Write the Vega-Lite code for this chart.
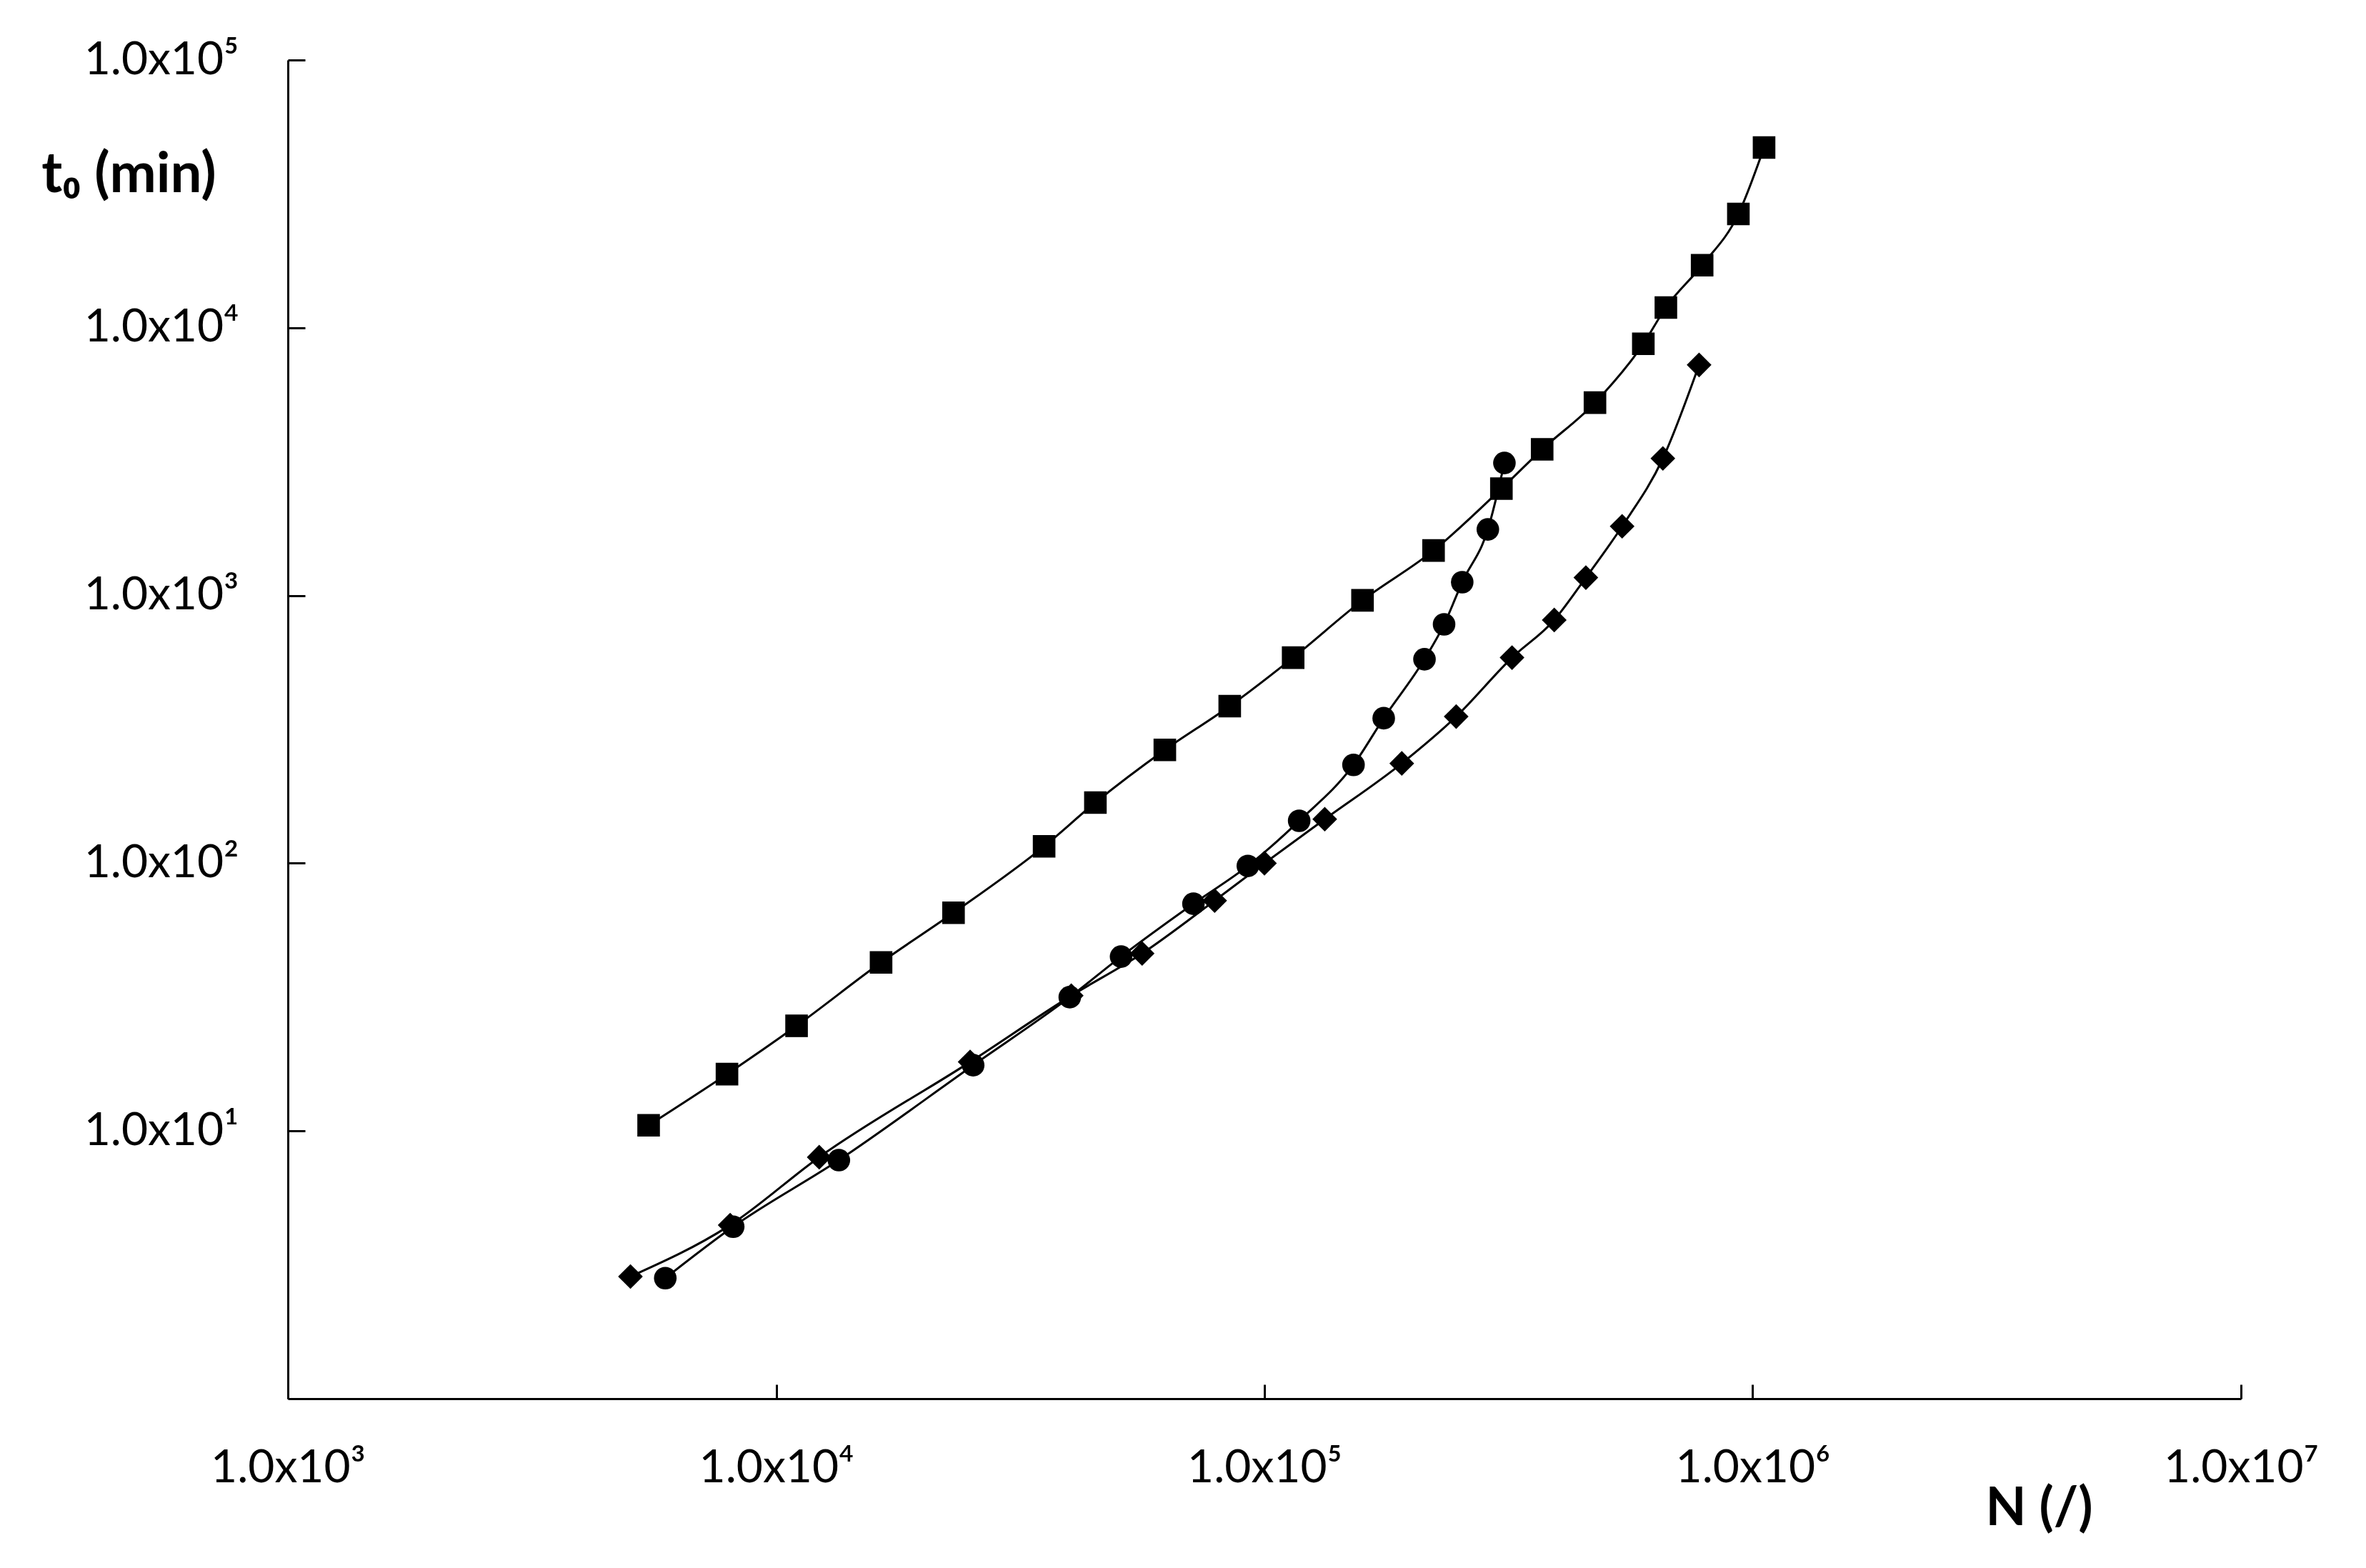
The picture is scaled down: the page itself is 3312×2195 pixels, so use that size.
{
  "$schema": "https://vega.github.io/schema/vega-lite/v6.json",
  "width": 2734,
  "height": 1874,
  "autosize": "none",
  "padding": {"left": 403, "top": 84, "right": 175, "bottom": 237},
  "background": "white",
  "config": {
    "view": {"stroke": null},
    "axis": {
      "domainColor": "black",
      "domainWidth": 3,
      "tickColor": "black",
      "tickWidth": 3,
      "grid": false,
      "labelFont": "Lato",
      "labelFontSize": 64,
      "labelColor": "black",
      "labelLimit": 0,
      "labelFlush": false,
      "labelOverlap": false,
      "labelBound": false,
      "titleFont": "Lato",
      "titleFontSize": 74,
      "titleFontWeight": "bold",
      "titleColor": "black"
    }
  },
  "data": {
    "values": [
      {"s": "A", "N": 5480, "t": 10.5},
      {"s": "A", "N": 7930, "t": 16.3},
      {"s": "A", "N": 11010, "t": 24.7},
      {"s": "A", "N": 16400, "t": 42.6},
      {"s": "A", "N": 23080, "t": 65.3},
      {"s": "A", "N": 35380, "t": 115.6},
      {"s": "A", "N": 45060, "t": 168.5},
      {"s": "A", "N": 62520, "t": 265},
      {"s": "A", "N": 84900, "t": 386},
      {"s": "A", "N": 114500, "t": 586},
      {"s": "A", "N": 158800, "t": 959},
      {"s": "A", "N": 222000, "t": 1472},
      {"s": "A", "N": 305700, "t": 2506},
      {"s": "A", "N": 370500, "t": 3514},
      {"s": "A", "N": 475300, "t": 5250},
      {"s": "A", "N": 597000, "t": 8710},
      {"s": "A", "N": 664000, "t": 11900},
      {"s": "A", "N": 787800, "t": 17120},
      {"s": "A", "N": 934600, "t": 26600},
      {"s": "A", "N": 1055000, "t": 47100},
      {"s": "B", "N": 5928, "t": 2.82},
      {"s": "B", "N": 8166, "t": 4.39},
      {"s": "B", "N": 13440, "t": 7.78},
      {"s": "B", "N": 25320, "t": 17.6},
      {"s": "B", "N": 39930, "t": 31.6},
      {"s": "B", "N": 50860, "t": 44.8},
      {"s": "B", "N": 71550, "t": 70.6},
      {"s": "B", "N": 92480, "t": 97.7},
      {"s": "B", "N": 117800, "t": 144},
      {"s": "B", "N": 152200, "t": 233},
      {"s": "B", "N": 175500, "t": 348},
      {"s": "B", "N": 212700, "t": 578},
      {"s": "B", "N": 233300, "t": 780},
      {"s": "B", "N": 254100, "t": 1121},
      {"s": "B", "N": 286800, "t": 1765},
      {"s": "B", "N": 310100, "t": 3126},
      {"s": "C", "N": 5030, "t": 2.86},
      {"s": "C", "N": 8050, "t": 4.45},
      {"s": "C", "N": 12250, "t": 7.98},
      {"s": "C", "N": 24960, "t": 18.1},
      {"s": "C", "N": 40210, "t": 32.0},
      {"s": "C", "N": 56170, "t": 46.0},
      {"s": "C", "N": 79070, "t": 72.5},
      {"s": "C", "N": 100000, "t": 100},
      {"s": "C", "N": 132900, "t": 146},
      {"s": "C", "N": 191100, "t": 236},
      {"s": "C", "N": 247000, "t": 353},
      {"s": "C", "N": 321400, "t": 586},
      {"s": "C", "N": 392200, "t": 810},
      {"s": "C", "N": 455300, "t": 1166},
      {"s": "C", "N": 540200, "t": 1813},
      {"s": "C", "N": 654700, "t": 3250},
      {"s": "C", "N": 776600, "t": 7265}
    ]
  },
  "encoding": {
    "x": {
      "field": "N",
      "type": "quantitative",
      "scale": {"type": "log", "domain": [1000, 10000000], "nice": false},
      "axis": {
        "values": [1000, 10000, 100000, 1000000, 10000000],
        "labelExpr": "'1.0x10' + ['⁰','¹','²','³','⁴','⁵','⁶','⁷'][round(log(datum.value)/LN10)]",
        "tickSize": -20,
        "labelPadding": 85,
        "labelBaseline": "top",
        "labelAlign": "center",
        "title": "N (/)",
        "titleX": 2451,
        "titleY": 154,
        "titleAlign": "center",
        "titleBaseline": "middle"
      }
    },
    "y": {
      "field": "t",
      "type": "quantitative",
      "scale": {"type": "log", "domain": [1, 100000], "nice": false},
      "axis": {
        "values": [10, 100, 1000, 10000, 100000],
        "labelExpr": "'1.0x10' + ['⁰','¹','²','³','⁴','⁵','⁶','⁷'][round(log(datum.value)/LN10)]",
        "tickSize": -24,
        "labelPadding": 93,
        "title": "t₀ (min)",
        "titleFontSize": 78,
        "titleAngle": 0,
        "titleX": -223,
        "titleY": 161,
        "titleAlign": "center",
        "titleBaseline": "middle"
      }
    }
  },
  "layer": [
    {
      "mark": {"type": "line", "color": "black", "strokeWidth": 3, "interpolate": "monotone"},
      "encoding": {"detail": {"field": "s"}}
    },
    {
      "transform": [{"filter": "datum.s == 'A'"}],
      "mark": {"type": "point", "shape": "square", "size": 1000, "filled": true, "color": "black", "opacity": 1}
    },
    {
      "transform": [{"filter": "datum.s == 'B'"}],
      "mark": {"type": "point", "shape": "circle", "size": 1000, "filled": true, "color": "black", "opacity": 1}
    },
    {
      "transform": [{"filter": "datum.s == 'C'"}],
      "mark": {"type": "point", "shape": "diamond", "size": 1200, "filled": true, "color": "black", "opacity": 1}
    }
  ]
}
